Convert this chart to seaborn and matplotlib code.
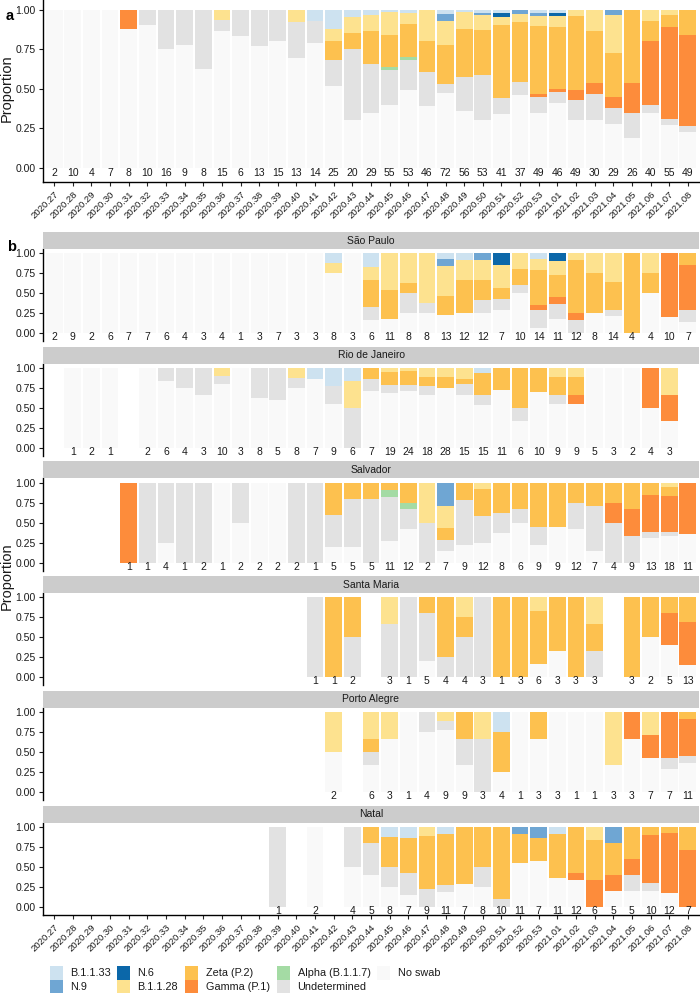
import numpy as np
import pandas as pd
import matplotlib
matplotlib.use("Agg")
import matplotlib.pyplot as plt
import seaborn as sns
from matplotlib.patches import Rectangle

# ---------------- data ----------------
WEEKS = ["2020.27", "2020.28", "2020.29", "2020.30", "2020.31", "2020.32", "2020.33",
         "2020.34", "2020.35", "2020.36", "2020.37", "2020.38", "2020.39", "2020.40",
         "2020.41", "2020.42", "2020.43", "2020.44", "2020.45", "2020.46", "2020.47",
         "2020.48", "2020.49", "2020.50", "2020.51", "2020.52", "2020.53", "2021.01",
         "2021.02", "2021.03", "2021.04", "2021.05", "2021.06", "2021.07", "2021.08"]

# stacking order, bottom -> top
CATEGORIES = ["No swab", "Undetermined", "Alpha (B.1.1.7)", "Gamma (P.1)", "Zeta (P.2)",
              "B.1.1.28", "N.6", "N.9", "B.1.1.33"]
COLORS = {"B.1.1.33": "#cde2f0", "N.9": "#6fa6d3", "N.6": "#0b67a9",
          "B.1.1.28": "#fde28f", "Zeta (P.2)": "#fdc14f", "Gamma (P.1)": "#fd8c3b",
          "Alpha (B.1.1.7)": "#a4dba4", "Undetermined": "#e2e2e2", "No swab": "#f9f9f9"}
LEGEND_ORDER = ["B.1.1.33", "N.9", "N.6", "B.1.1.28", "Zeta (P.2)", "Gamma (P.1)",
                "Alpha (B.1.1.7)", "Undetermined", "No swab"]

# Panel a: all sites (counts of genomes per week)
BR_NOSWAB = [2, 10, 4, 7, 7, 9, 12, 7, 5, 13, 5, 10, 12, 9, 11, 13, 6, 10, 22, 26,
             18, 34, 20, 16, 14, 17, 17, 19, 15, 9, 8, 5, 14, 15, 11]
BR_UNDET = [0, 0, 0, 0, 0, 1, 4, 2, 3, 1, 1, 3, 3, 3, 2, 4, 9, 9, 12, 10,
            10, 4, 12, 15, 4, 3, 5, 3, 6, 5, 3, 4, 2, 2, 2]
BR_ALPHA = [0] * 18 + [1, 1] + [0] * 15
BR_GAMMA = [0, 0, 0, 0, 1] + [0] * 21 + [1, 1, 3, 2, 2, 5, 16, 32, 28]
BR_ZETA = [0] * 15 + [3, 2, 6, 11, 11, 9, 18, 17, 15, 19, 14, 21, 18, 23, 10, 8, 12, 5, 4, 8]
BR_B28 = [0, 0, 0, 0, 0, 0, 0, 0, 0, 1, 0, 0, 0, 1, 0, 2, 2, 3, 8, 4,
          9, 11, 6, 5, 2, 2, 3, 3, 2, 4, 7, 0, 3, 2, 0]
BR_N6 = [0] * 24 + [1, 0, 0, 1] + [0] * 7
BR_N9 = [0] * 21 + [3, 0, 1, 0, 1, 1, 0, 0, 0, 1, 0, 0, 0, 0]
BR_B33 = [0] * 14 + [1, 3, 1, 1, 1, 1, 0, 2, 1, 1, 1, 0, 1, 1] + [0] * 7

# São Paulo
SP_NOSWAB = [2, 9, 2, 6, 7, 7, 6, 4, 3, 4, 1, 3, 7, 3, 3, 6, 3, 1, 2, 2,
             2, 3, 3, 3, 2, 5, 1, 2, 0, 2, 3, 0, 2, 2, 1]
SP_UNDET = [0] * 17 + [1, 0, 2, 1, 0, 0, 2, 1, 1, 3, 2, 2, 0, 1, 0, 0, 0, 1]
SP_GAMMA = [0] * 26 + [1, 1, 1, 0, 0, 0, 0, 8, 4]
SP_ZETA = [0] * 17 + [2, 4, 1, 0, 3, 5, 3, 1, 2, 6, 3, 8, 4, 5, 4, 1, 0, 1]
SP_B28 = [0] * 15 + [1, 0, 1, 5, 3, 5, 5, 3, 3, 2, 2, 2, 2, 1, 2, 5, 0, 1, 0, 0]
SP_N6 = [0] * 24 + [1, 0, 0, 1] + [0] * 7
SP_N9 = [0] * 21 + [1, 0, 1] + [0] * 11
SP_B33 = [0] * 15 + [1, 0, 1, 0, 0, 0, 1, 1, 0, 0, 0, 1] + [0] * 8

# Rio de Janeiro
RJ_NOSWAB = [0, 1, 2, 1, 0, 2, 5, 3, 2, 8, 3, 5, 3, 6, 6, 5, 0, 5, 13, 17,
             12, 21, 10, 8, 8, 2, 7, 5, 5, 5, 3, 2, 2, 1, 0]
RJ_UNDET = [0, 0, 0, 0, 0, 0, 1, 1, 1, 1, 0, 3, 2, 1, 0, 2, 3, 1, 2, 2,
            2, 0, 2, 2, 0, 1, 0, 1, 0, 0, 0, 0, 0, 0, 0]
RJ_GAMMA = [0] * 28 + [1, 0, 0, 0, 2, 1, 0]
RJ_ZETA = [0] * 17 + [1, 3, 4, 2, 4, 1, 4, 3, 3, 3, 2, 2] + [0] * 6
RJ_B28 = [0] * 9 + [1, 0, 0, 0, 1, 0, 0, 2, 0, 1, 1, 2, 3, 2, 0, 0, 0, 0, 1, 1, 0,
                    0, 0, 0, 1, 0]
RJ_B33 = [0] * 14 + [1, 2, 1, 0, 0, 0, 0, 0, 0, 1] + [0] * 11

# Salvador
SA_NOSWAB = [0, 0, 0, 0, 0, 0, 1, 0, 0, 1, 1, 2, 2, 0, 0, 1, 1, 0, 3, 5,
             0, 1, 2, 3, 3, 3, 2, 4, 5, 1, 0, 0, 4, 6, 4]
SA_UNDET = [0, 0, 0, 0, 0, 1, 3, 1, 2, 0, 1, 0, 0, 2, 1, 2, 3, 4, 6, 3,
            1, 1, 5, 4, 2, 1, 2, 0, 4, 4, 2, 3, 1, 1, 0]
SA_ALPHA = [0] * 18 + [1, 1] + [0] * 15
SA_GAMMA = [0, 0, 0, 0, 1] + [0] * 25 + [1, 3, 6, 8, 7]
SA_ZETA = [0] * 15 + [2, 1, 1, 1, 3, 0, 1, 2, 4, 3, 2, 5, 5, 3, 2, 1, 3, 2, 2, 0]
SA_B28 = [0] * 20 + [1, 2, 0, 1] + [0] * 9 + [1, 0]
SA_N9 = [0] * 21 + [2] + [0] * 13

# Santa Maria
SM_NOSWAB = [0] * 20 + [1, 0, 0, 0, 0, 0, 1, 1, 0, 0, 0, 0, 1, 2, 2]
SM_UNDET = [0] * 14 + [1, 0, 1, 0, 2, 1, 3, 1, 2, 3, 0, 0, 0, 0, 0, 1, 0, 0, 0, 0, 0]
SM_GAMMA = [0] * 33 + [2, 7]
SM_ZETA = [0] * 15 + [1, 1, 0, 0, 0, 1, 3, 1, 0, 1, 3, 4, 2, 3, 1, 0, 3, 1, 1, 4]
SM_B28 = [0] * 18 + [1, 0, 0, 0, 1, 0, 0, 0, 1, 0, 0, 1, 0, 0, 0, 0, 0]

# Porto Alegre
PA_NOSWAB = [0] * 15 + [1, 0, 2, 2, 1, 3, 7, 3, 0, 1, 1, 2, 3, 1, 1, 1, 2, 3, 2, 4]
PA_UNDET = [0] * 17 + [1, 0, 0, 1, 1, 3, 2, 0, 0, 0, 0, 0, 0, 0, 0, 0, 1, 1]
PA_GAMMA = [0] * 31 + [1, 2, 4, 5]
PA_ZETA = [0] * 17 + [1, 0, 0, 0, 0, 3, 0, 2, 0, 1, 0, 0, 0, 0, 0, 0, 0, 1]
PA_B28 = [0] * 15 + [1, 0, 2, 1, 0, 0, 1, 0, 1, 0, 0, 0, 0, 0, 0, 2, 0, 2, 0, 0]
PA_B33 = [0] * 24 + [1] + [0] * 10

# Natal
NA_NOSWAB = [0] * 14 + [2, 0, 2, 2, 2, 1, 0, 2, 2, 2, 0, 6, 4, 4, 4, 0, 1, 1, 2, 2, 0]
NA_UNDET = [0] * 12 + [1, 0, 0, 0, 2, 2, 2, 2, 2, 1, 0, 2, 1, 0, 0, 0, 0, 0, 0, 1, 1, 0, 0]
NA_GAMMA = [0] * 28 + [1, 2, 1, 1, 6, 9, 5]
NA_ZETA = [0] * 17 + [1, 3, 3, 6, 7, 5, 4, 9, 4, 2, 6, 7, 3, 2, 2, 1, 1, 2]
NA_B28 = [0] * 20 + [1, 0, 0, 0, 0, 0, 0, 0, 0, 1, 0, 0, 0, 0, 0]
NA_N9 = [0] * 25 + [1, 1, 0, 0, 0, 1, 0, 0, 0, 0]
NA_B33 = [0] * 18 + [1, 1, 0, 1, 0, 0, 0, 0, 0, 1, 0, 0, 0, 0, 0, 0, 0]

PANEL_A = {"No swab": BR_NOSWAB, "Undetermined": BR_UNDET, "Alpha (B.1.1.7)": BR_ALPHA,
           "Gamma (P.1)": BR_GAMMA, "Zeta (P.2)": BR_ZETA, "B.1.1.28": BR_B28,
           "N.6": BR_N6, "N.9": BR_N9, "B.1.1.33": BR_B33}
CITIES = [
    ("São Paulo", {"No swab": SP_NOSWAB, "Undetermined": SP_UNDET, "Gamma (P.1)": SP_GAMMA,
                   "Zeta (P.2)": SP_ZETA, "B.1.1.28": SP_B28, "N.6": SP_N6,
                   "N.9": SP_N9, "B.1.1.33": SP_B33}),
    ("Rio de Janeiro", {"No swab": RJ_NOSWAB, "Undetermined": RJ_UNDET, "Gamma (P.1)": RJ_GAMMA,
                        "Zeta (P.2)": RJ_ZETA, "B.1.1.28": RJ_B28, "B.1.1.33": RJ_B33}),
    ("Salvador", {"No swab": SA_NOSWAB, "Undetermined": SA_UNDET, "Alpha (B.1.1.7)": SA_ALPHA,
                  "Gamma (P.1)": SA_GAMMA, "Zeta (P.2)": SA_ZETA, "B.1.1.28": SA_B28,
                  "N.9": SA_N9}),
    ("Santa Maria", {"No swab": SM_NOSWAB, "Undetermined": SM_UNDET, "Gamma (P.1)": SM_GAMMA,
                     "Zeta (P.2)": SM_ZETA, "B.1.1.28": SM_B28}),
    ("Porto Alegre", {"No swab": PA_NOSWAB, "Undetermined": PA_UNDET, "Gamma (P.1)": PA_GAMMA,
                      "Zeta (P.2)": PA_ZETA, "B.1.1.28": PA_B28, "B.1.1.33": PA_B33}),
    ("Natal", {"No swab": NA_NOSWAB, "Undetermined": NA_UNDET, "Gamma (P.1)": NA_GAMMA,
               "Zeta (P.2)": NA_ZETA, "B.1.1.28": NA_B28, "N.9": NA_N9, "B.1.1.33": NA_B33}),
]

# ---------------- style ----------------
sns.set_style("ticks")
plt.rcParams["font.family"] = ["Liberation Sans", "DejaVu Sans"]
plt.rcParams["axes.linewidth"] = 1.0
TXT = "#1a1a1a"

W, H = 700, 993
fig = plt.figure(figsize=(W / 100, H / 100), dpi=100)


def rect(l, t, r, b):
    return [l / W, 1 - b / H, (r - l) / W, (b - t) / H]


LEFT, RIGHT = 43, 699
NW = len(WEEKS)


def draw_panel(ax, data, ylim, label_y, show_x):
    df = pd.DataFrame({c: data.get(c, [0] * NW) for c in CATEGORIES}, index=WEEKS)
    n = df.sum(axis=1)
    prop = df.div(n.replace(0, np.nan), axis=0)
    cum = prop.cumsum(axis=1, skipna=False)
    for c in reversed(CATEGORIES):
        sns.barplot(x=WEEKS, y=cum[c].values, order=WEEKS, color=COLORS[c], width=0.9,
                    errorbar=None, saturation=1, linewidth=0, ax=ax)
    for i, w in enumerate(WEEKS):
        if n[w] > 0:
            ax.text(i, label_y, str(int(n[w])), ha="center", va="center",
                    fontsize=7.5, color=TXT)
    ax.set_xlim(-0.6, NW - 0.4)
    ax.set_ylim(*ylim)
    ax.set_xlabel("")
    ax.set_ylabel("")
    ax.set_yticks([0, 0.25, 0.5, 0.75, 1.0])
    ax.set_yticklabels(["0.00", "0.25", "0.50", "0.75", "1.00"])
    ax.tick_params(axis="y", length=3, width=0.8, pad=2.2, labelsize=7.5, colors=TXT,
                   labelcolor=TXT)
    for s in ["top", "right"]:
        ax.spines[s].set_visible(False)
    ax.spines["left"].set_color("black")
    if show_x:
        ax.set_xticks(range(NW))
        ax.set_xticklabels(WEEKS, rotation=45, ha="right", va="top",
                           rotation_mode="anchor", fontsize=6.8, color=TXT)
        ax.tick_params(axis="x", length=3, width=0.8, pad=2.5)
        ax.spines["bottom"].set_color("black")
    else:
        ax.spines["bottom"].set_visible(False)
        ax.tick_params(axis="x", bottom=False, labelbottom=False)
    ax.set_facecolor("white")


# panel a
axA = fig.add_axes(rect(LEFT, 0, RIGHT, 182))
draw_panel(axA, PANEL_A, (-0.088, 1.06), -0.032, True)
fig.text(10 / W, 1 - 15.7 / H, "a", fontsize=10.5, fontweight="bold", ha="center",
         va="center", color="black")
fig.text(7 / W, 1 - 88 / H, "Proportion", rotation=90, fontsize=10.5, ha="center",
         va="center", color=TXT)

# panel b facets
for k, (city, data) in enumerate(CITIES):
    y1 = 253.3 + k * 114.7
    ax = fig.add_axes(rect(LEFT, y1 - 4.3, RIGHT, y1 + 88))
    draw_panel(ax, data, (-0.1, 1.054), -0.05, k == len(CITIES) - 1)
    sax = fig.add_axes(rect(LEFT, y1 - 21.3, RIGHT, y1 - 4.3))
    sax.set_facecolor("#cccccc")
    sax.set_xticks([])
    sax.set_yticks([])
    for s in sax.spines.values():
        s.set_visible(False)
    sax.text(0.5, 0.5, city, ha="center", va="center", fontsize=7.5, color=TXT,
             transform=sax.transAxes)

fig.text(12 / W, 1 - 246.7 / H, "b", fontsize=10.5, fontweight="bold", ha="center",
         va="center", color="black")
fig.text(7 / W, 1 - 576 / H, "Proportion", rotation=90, fontsize=10.5, ha="center",
         va="center", color=TXT)

# legend (2 rows, filled column-wise)
col_x = [50, 117, 185, 277, 377]
row_y = [973, 987]
for j, name in enumerate(LEGEND_ORDER):
    cx = col_x[j // 2]
    cy = row_y[j % 2]
    fig.add_artist(Rectangle((cx / W, 1 - (cy + 7) / H), 13 / W, 14 / H,
                             transform=fig.transFigure, facecolor=COLORS[name],
                             edgecolor="none"))
    fig.text((cx + 20.5) / W, 1 - cy / H, name, fontsize=7.8, ha="left", va="center",
             color=TXT)

fig.savefig("out.png", dpi=100)
